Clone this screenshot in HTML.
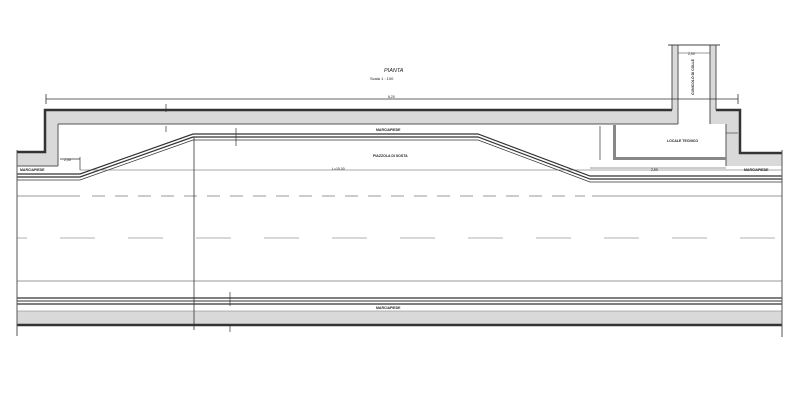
<!DOCTYPE html>
<html><head><meta charset="utf-8"><style>
html,body{margin:0;padding:0;background:#fff;}
svg{display:block;}
text{font-family:"Liberation Sans",sans-serif;fill:#222;}
</style></head><body>
<svg width="800" height="407" viewBox="0 0 800 407" xmlns="http://www.w3.org/2000/svg">
<rect width="800" height="407" fill="#fff"/>
<path d="M45,110 L672,110 L672,45 L678,45 L678,124 L58,124 L58,166 L17,166 L17,152 L45,152 Z" fill="#d9d9d9"/>
<path d="M710,45 L716,45 L716,110 L740,110 L740,153 L782,153 L782,166 L726,166 L726,124 L710,124 Z" fill="#d9d9d9"/>
<path d="M17,152 L45,152 L45,110 L672,110" fill="none" stroke="#333" stroke-width="2.5"/>
<path d="M716,110 L740,110 L740,153 L782,153" fill="none" stroke="#333" stroke-width="2.5"/>
<path d="M58,124 L678,124 M58,124 L58,166 M17,166 L58,166" fill="none" stroke="#555" stroke-width="1"/>
<path d="M672,45 L672,110 M678,45 L678,124 M710,45 L710,124 M716,45 L716,110 M726,124 L726,166" fill="none" stroke="#555" stroke-width="1"/>
<line x1="668" y1="45" x2="720" y2="45" stroke="#444" stroke-width="1"/>
<line x1="46" y1="99" x2="738" y2="99" stroke="#333" stroke-width="0.8"/>
<line x1="46" y1="94" x2="46" y2="104" stroke="#333" stroke-width="0.8"/>
<line x1="738" y1="94" x2="738" y2="104" stroke="#333" stroke-width="0.8"/>
<g fill="none" stroke="#333">
<path d="M17,174 L80,174 L193,134 L478,134 L590,176 L782,176" stroke-width="1.2"/>
<path d="M17,177 L80,177 L193,137 L478,137 L590,179 L782,179" stroke-width="1.2"/>
<path d="M17,180 L80,180 L193,140 L478,140 L590,182 L782,182" stroke-width="0.8"/>
</g>
<line x1="80" y1="170" x2="782" y2="170" stroke="#555" stroke-width="0.6"/>
<rect x="613" y="125" width="3" height="35" fill="#888"/>
<rect x="613" y="157" width="113" height="3" fill="#888"/>
<line x1="17" y1="196" x2="80" y2="196" stroke="#ccc" stroke-width="2"/>
<line x1="92" y1="196" x2="585" y2="196" stroke="#ccc" stroke-width="2" stroke-dasharray="13,10"/>
<line x1="592" y1="196" x2="782" y2="196" stroke="#ccc" stroke-width="2"/>
<line x1="17" y1="238" x2="782" y2="238" stroke="#ccc" stroke-width="1.5" stroke-dasharray="35,33" stroke-dashoffset="-43"/>
<line x1="17" y1="281" x2="782" y2="281" stroke="#ccc" stroke-width="2"/>
<line x1="17" y1="298" x2="782" y2="298" stroke="#333" stroke-width="1.2"/>
<line x1="17" y1="301" x2="782" y2="301" stroke="#333" stroke-width="1"/>
<line x1="17" y1="304" x2="782" y2="304" stroke="#333" stroke-width="1.2"/>
<rect x="17" y="311" width="765" height="13" fill="#d9d9d9"/>
<line x1="17" y1="311" x2="782" y2="311" stroke="#777" stroke-width="0.6"/>
<line x1="17" y1="325" x2="782" y2="325" stroke="#333" stroke-width="2.5"/>
<line x1="17" y1="150" x2="17" y2="336" stroke="#555" stroke-width="1"/>
<line x1="782" y1="150" x2="782" y2="337" stroke="#555" stroke-width="1"/>
<line x1="194" y1="137" x2="194" y2="330" stroke="#333" stroke-width="0.8"/>
<line x1="166" y1="104" x2="166" y2="112" stroke="#333" stroke-width="0.7"/>
<line x1="166" y1="126" x2="166" y2="132" stroke="#333" stroke-width="0.7"/>
<line x1="236" y1="128" x2="236" y2="146" stroke="#333" stroke-width="0.7"/>
<line x1="230" y1="292" x2="230" y2="306" stroke="#333" stroke-width="0.7"/>
<line x1="230" y1="326" x2="230" y2="332" stroke="#333" stroke-width="0.7"/>
<line x1="600" y1="126" x2="600" y2="160" stroke="#333" stroke-width="0.7"/>
<line x1="80" y1="157" x2="80" y2="170" stroke="#333" stroke-width="0.7"/>
<line x1="60" y1="159" x2="80" y2="159" stroke="#333" stroke-width="0.7"/>
<line x1="590" y1="168" x2="726" y2="168" stroke="#333" stroke-width="0.6"/>
<line x1="726" y1="133" x2="738" y2="133" stroke="#333" stroke-width="0.6"/>
<line x1="678" y1="53" x2="710" y2="53" stroke="#333" stroke-width="0.6"/>
<text x="384" y="72" font-size="5.5" font-style="italic">PIANTA</text>
<text x="370" y="80" font-size="4">Scala  1 : 100</text>
<text x="20" y="171" font-size="3.5" font-weight="bold">MARCIAPIEDE</text>
<text x="376" y="131" font-size="3.5" font-weight="bold">MARCIAPIEDE</text>
<text x="373" y="157" font-size="3.5" font-weight="bold">PIAZZOLA DI SOSTA</text>
<text x="332" y="170" font-size="3.5">L=15,00</text>
<text x="388" y="98" font-size="3.5">6,20</text>
<text x="64" y="161" font-size="3.5">2,50</text>
<text x="667" y="142" font-size="3.5" font-weight="bold">LOCALE TECNICO</text>
<text x="744" y="171" font-size="3.5" font-weight="bold">MARCIAPIEDE</text>
<text x="376" y="309" font-size="3.5" font-weight="bold">MARCIAPIEDE</text>
<text x="651" y="171" font-size="3.5">2,50</text>
<text x="688" y="55" font-size="3.5">2,00</text>
<text x="0" y="0" font-size="3.5" font-weight="bold" transform="translate(694,95) rotate(-90)">CUNICOLO DI COLLE</text>
</svg>
</body></html>
